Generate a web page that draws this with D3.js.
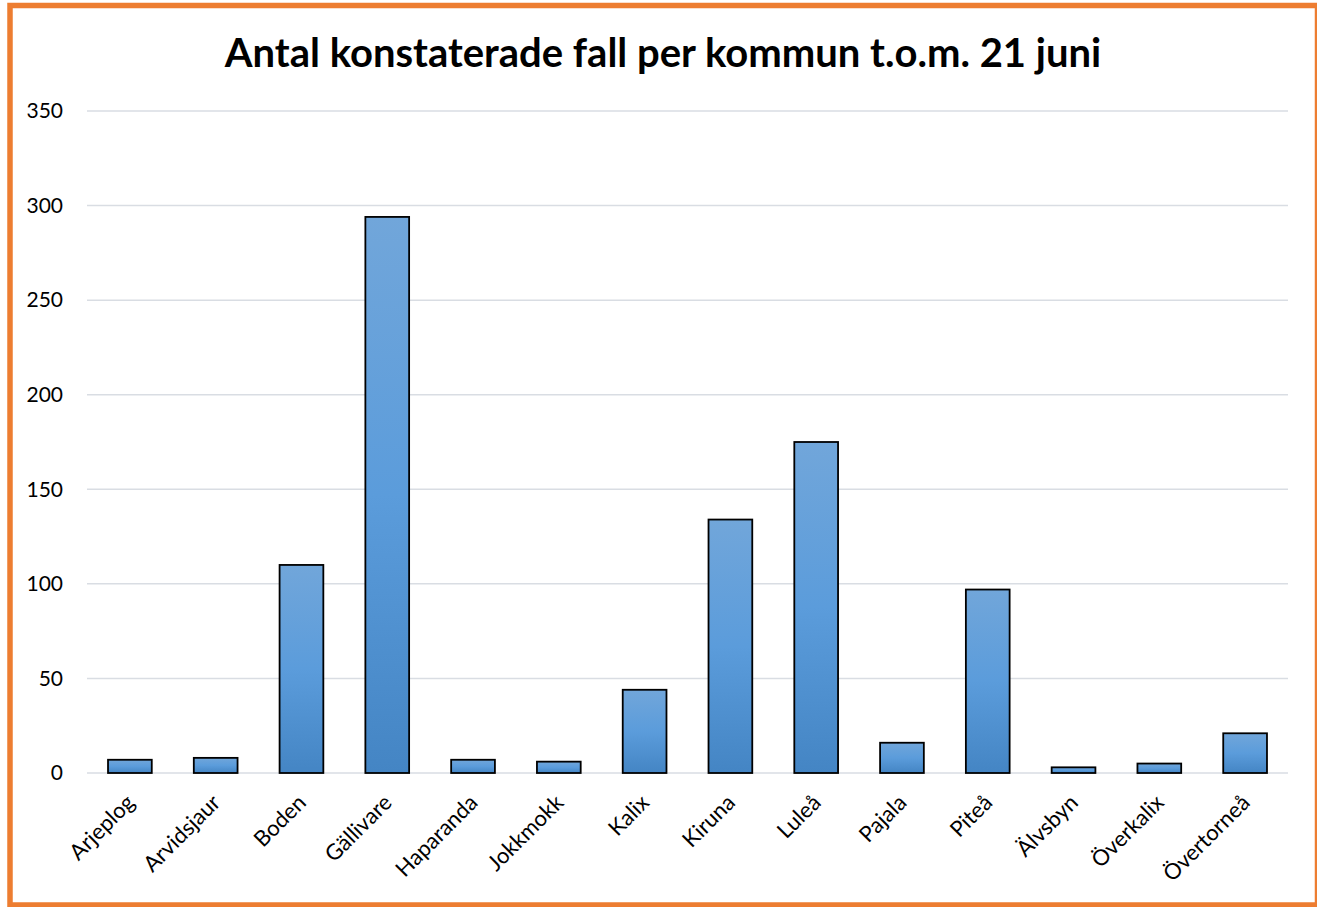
<!DOCTYPE html>
<html><head><meta charset="utf-8">
<script src="https://cdn.jsdelivr.net/npm/d3@7"></script>
<style>
html,body{margin:0;padding:0;background:#fff;}
svg{display:block;}
</style></head>
<body>
<svg id="chart" width="1317" height="907"></svg>
<script>
const titleText = "Antal konstaterade fall per kommun t.o.m. 21 juni";
const categories = ["Arjeplog","Arvidsjaur","Boden","Gällivare","Haparanda","Jokkmokk","Kalix","Kiruna","Luleå","Pajala","Piteå","Älvsbyn","Överkalix","Övertorneå"];
const values = [7,8,110,294,7,6,44,134,175,16,97,3,5,21];
const yTicks = [0,50,100,150,200,250,300,350];

const svg = d3.select("#chart");
const x0 = 87, x1 = 1288, yTop = 111, yBot = 773;

// border
svg.append("rect").attr("x",10).attr("y",5.5).attr("width",1307.5).attr("height",899.5)
  .attr("fill","#fff").attr("stroke","#ED7D31").attr("stroke-width",5.5);

const defs = svg.append("defs");
const grad = defs.append("linearGradient").attr("id","barGrad").attr("x1",0).attr("y1",0).attr("x2",0).attr("y2",1);
grad.append("stop").attr("offset","0%").attr("stop-color","#71a6da");
grad.append("stop").attr("offset","50%").attr("stop-color","#5b9cdb");
grad.append("stop").attr("offset","100%").attr("stop-color","#4485c4");

const x = d3.scaleBand().domain(categories).range([x0,x1]).paddingInner(0.49).paddingOuter(0.245);
const y = d3.scaleLinear().domain([0,350]).range([yBot,yTop]);

// gridlines
svg.append("g").selectAll("line").data(yTicks).join("line")
  .attr("x1",x0).attr("x2",x1)
  .attr("y1",d=>y(d)).attr("y2",d=>y(d))
  .attr("stroke","#d9dde3").attr("stroke-width",1.5);

// y axis labels
const yAxis = d3.axisLeft(y).tickValues(yTicks).tickSize(0).tickPadding(0);
const ga = svg.append("g").attr("transform",`translate(63,0)`).call(yAxis);
ga.select(".domain").remove();
ga.selectAll("text").attr("font-family","Lato, 'Open Sans', sans-serif").attr("font-size",21).attr("fill","#000");

// bars
svg.append("g").selectAll("rect").data(values).join("rect")
  .attr("x",(d,i)=>x(categories[i]))
  .attr("width",x.bandwidth())
  .attr("y",d=>y(d))
  .attr("height",d=>yBot-y(d))
  .attr("fill","url(#barGrad)")
  .attr("stroke","#000").attr("stroke-width",1.8);

// x axis labels
const xAxis = d3.axisBottom(x).tickSize(0).tickPadding(0);
const gx = svg.append("g").attr("transform",`translate(0,${yBot})`).call(xAxis);
gx.select(".domain").remove();
gx.selectAll("text")
  .attr("font-family","Lato, 'Open Sans', sans-serif").attr("font-size",22).attr("fill","#000")
  .attr("text-anchor","end").attr("dy",null).attr("y",0)
  .attr("transform","translate(6,31) rotate(-45)");

// title
svg.append("text").attr("x",663).attr("y",67).attr("text-anchor","middle")
  .attr("font-family","Lato, 'Open Sans', sans-serif").attr("font-weight","bold").attr("font-size",40)
  .attr("fill","#000").text(titleText);
</script>
</body></html>
